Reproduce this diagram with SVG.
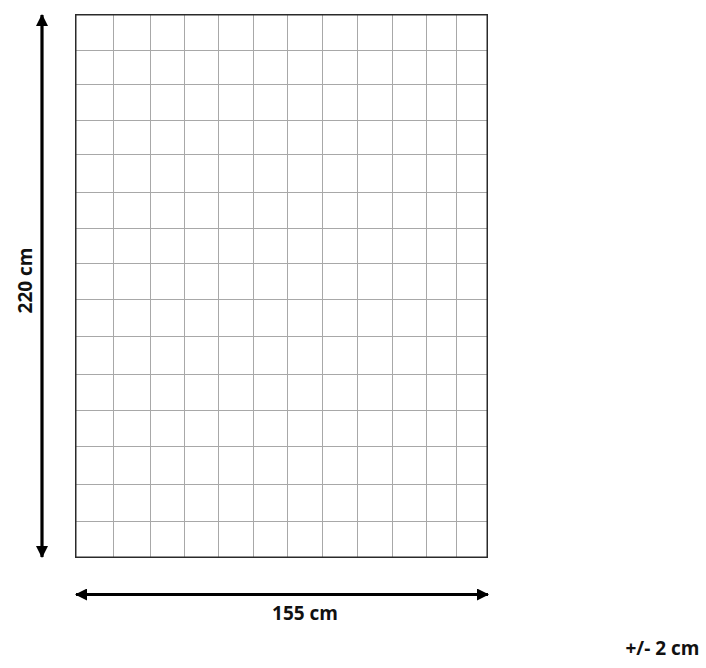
<svg xmlns="http://www.w3.org/2000/svg" width="706" height="668" viewBox="0 0 706 668">
<style>
.grid line{stroke:#a8a8a8;stroke-width:1}
.border{fill:none;stroke:#2a2a2a;stroke-width:1.5}
.dim{stroke:#000;stroke-width:3.2;fill:none}
.lbl{font-family:"Open Sans","Liberation Sans",sans-serif;font-weight:bold;font-size:19px;fill:#111}
</style>
<defs>
<marker id="ah" viewBox="0 0 12 12" refX="11" refY="6" markerWidth="12" markerHeight="12" markerUnits="userSpaceOnUse" orient="auto-start-reverse">
<path d="M0,0 L12,6 L0,12 Z" fill="#000"/>
</marker>
</defs>
<rect width="706" height="668" fill="#fff"/>
<g id="blanket">
<g class="grid">
<line x1="113.5" y1="15" x2="113.5" y2="557"/>
<line x1="150.5" y1="15" x2="150.5" y2="557"/>
<line x1="184.5" y1="15" x2="184.5" y2="557"/>
<line x1="218.5" y1="15" x2="218.5" y2="557"/>
<line x1="253.5" y1="15" x2="253.5" y2="557"/>
<line x1="287.5" y1="15" x2="287.5" y2="557"/>
<line x1="322.5" y1="15" x2="322.5" y2="557"/>
<line x1="357.5" y1="15" x2="357.5" y2="557"/>
<line x1="392.5" y1="15" x2="392.5" y2="557"/>
<line x1="426.5" y1="15" x2="426.5" y2="557"/>
<line x1="456.5" y1="15" x2="456.5" y2="557"/>
<line x1="76" y1="50.5" x2="487" y2="50.5"/>
<line x1="76" y1="84.5" x2="487" y2="84.5"/>
<line x1="76" y1="120.5" x2="487" y2="120.5"/>
<line x1="76" y1="154.5" x2="487" y2="154.5"/>
<line x1="76" y1="192.5" x2="487" y2="192.5"/>
<line x1="76" y1="228.5" x2="487" y2="228.5"/>
<line x1="76" y1="263.5" x2="487" y2="263.5"/>
<line x1="76" y1="299.5" x2="487" y2="299.5"/>
<line x1="76" y1="336.5" x2="487" y2="336.5"/>
<line x1="76" y1="374.5" x2="487" y2="374.5"/>
<line x1="76" y1="410.5" x2="487" y2="410.5"/>
<line x1="76" y1="446.5" x2="487" y2="446.5"/>
<line x1="76" y1="484.5" x2="487" y2="484.5"/>
<line x1="76" y1="521.5" x2="487" y2="521.5"/>
</g>
<rect class="border" x="75.75" y="14.75" width="411.5" height="542.5"/>
</g>
<g id="connectors">
<line class="dim" x1="42" y1="15" x2="42" y2="557" marker-start="url(#ah)" marker-end="url(#ah)"/>
<line class="dim" x1="76" y1="594.5" x2="488" y2="594.5" marker-start="url(#ah)" marker-end="url(#ah)"/>
</g>
<g id="labels">
<text class="lbl" x="305" y="620" text-anchor="middle">155 cm</text>
<text class="lbl" transform="translate(32 280.5) rotate(-90)" text-anchor="middle">220 cm</text>
<text class="lbl" x="662.5" y="655" text-anchor="middle">+/- 2 cm</text>
</g>
</svg>
